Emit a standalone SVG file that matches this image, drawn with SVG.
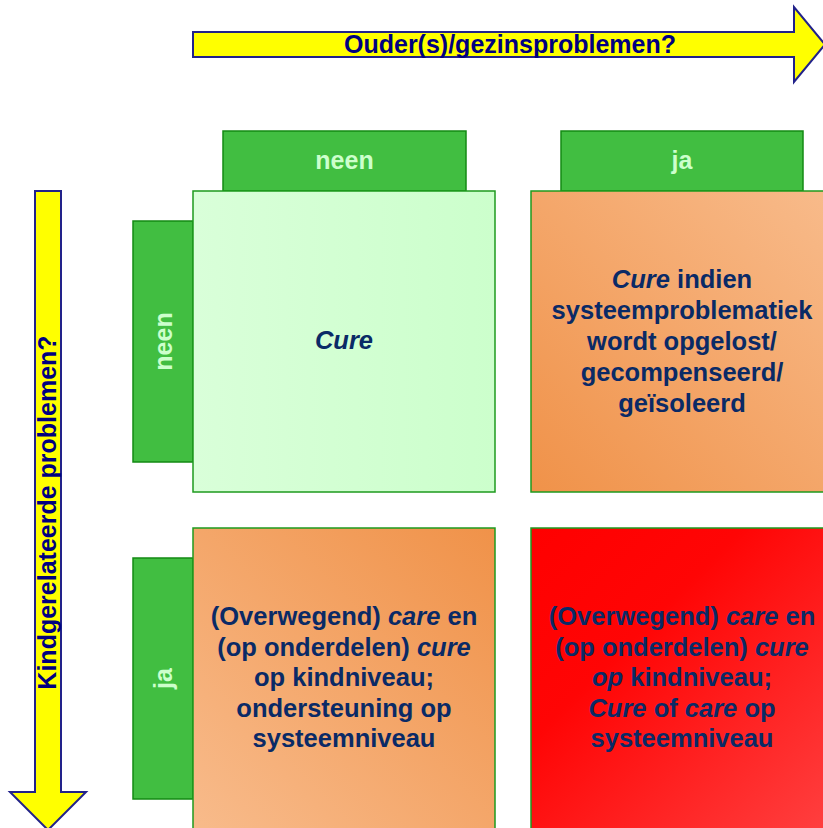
<svg xmlns="http://www.w3.org/2000/svg" width="823" height="828" viewBox="0 0 823 828">
<defs>
<linearGradient id="gTL" x1="0" y1="0" x2="1" y2="0"><stop offset="0" stop-color="#D9FFD9"/><stop offset="1" stop-color="#CCFFCC"/></linearGradient>
<linearGradient id="gTR" x1="0" y1="1" x2="1" y2="0"><stop offset="0" stop-color="#F09249"/><stop offset="1" stop-color="#F8BB8B"/></linearGradient>
<linearGradient id="gBL" x1="1" y1="0" x2="0" y2="1"><stop offset="0" stop-color="#F09249"/><stop offset="1" stop-color="#F8BB8B"/></linearGradient>
<linearGradient id="gBR" x1="0" y1="0" x2="1" y2="1"><stop offset="0" stop-color="#FF0000"/><stop offset="0.35" stop-color="#FF0505"/><stop offset="1" stop-color="#FF4040"/></linearGradient>
<style>
.arrow{fill:#FFFF00;stroke:#22228A;stroke-width:2;stroke-linejoin:miter}
.axis{font-family:"Liberation Sans",Arial,sans-serif;font-weight:bold;font-size:25px;fill:#000080;text-anchor:middle}
.tab{fill:#41BE41;stroke:#138A13;stroke-width:1.5}
.tabt{font-family:"Liberation Sans",Arial,sans-serif;font-weight:bold;font-size:25px;fill:#CCFFCC;text-anchor:middle}
.cell{stroke:#1E9A1E;stroke-width:1.5}
.ct{font-family:"Liberation Sans",Arial,sans-serif;font-weight:bold;font-size:25.5px;fill:#0A2A66;text-anchor:middle}
.i{font-style:italic}
</style>
</defs>
<g id="connectors">
<g id="axis-top">
<polygon class="arrow" points="193,32 794,32 794,7 825,44.5 794,82 794,57 193,57"/>
<text class="axis" x="510" y="53">Ouder(s)/gezinsproblemen?</text>
</g>
<g id="axis-left">
<polygon class="arrow" points="35,191 61,191 61,792 86,792 48,830 10,792 35,792"/>
<text class="axis" transform="translate(56,512.5) rotate(-90)">Kindgerelateerde problemen?</text>
</g>
</g>
<g id="tab-top-neen">
<rect class="tab" x="223" y="131" width="243" height="60"/>
<text class="tabt" x="344.5" y="169">neen</text>
</g>
<g id="tab-top-ja">
<rect class="tab" x="561" y="131" width="242" height="60"/>
<text class="tabt" x="682" y="169">ja</text>
</g>
<g id="tab-left-neen">
<rect class="tab" x="133" y="221" width="60" height="241"/>
<text class="tabt" transform="translate(172,341.5) rotate(-90)">neen</text>
</g>
<g id="tab-left-ja">
<rect class="tab" x="133" y="558" width="60" height="241"/>
<text class="tabt" transform="translate(172,678.5) rotate(-90)">ja</text>
</g>
<g id="cell-tl">
<rect class="cell" x="193" y="191" width="302" height="301" fill="url(#gTL)"/>
<text class="ct" x="344" y="349"><tspan class="i">Cure</tspan></text>
</g>
<g id="cell-tr">
<rect class="cell" x="531" y="191" width="302" height="301" fill="url(#gTR)"/>
<text class="ct" y="288"><tspan x="682"><tspan class="i">Cure</tspan> indien</tspan><tspan x="682" y="319">systeemproblematiek</tspan><tspan x="682" y="350">wordt opgelost/</tspan><tspan x="682" y="381">gecompenseerd/</tspan><tspan x="682" y="412">geïsoleerd</tspan></text>
</g>
<g id="cell-bl">
<rect class="cell" x="193" y="528" width="302" height="302" fill="url(#gBL)"/>
<text class="ct" y="625"><tspan x="344">(Overwegend) <tspan class="i">care</tspan> en</tspan><tspan x="344" y="655.5">(op onderdelen) <tspan class="i">cure</tspan></tspan><tspan x="344" y="686">op kindniveau;</tspan><tspan x="344" y="716.5">ondersteuning op</tspan><tspan x="344" y="747">systeemniveau</tspan></text>
</g>
<g id="cell-br">
<rect class="cell" x="531" y="528" width="302" height="302" fill="url(#gBR)"/>
<text class="ct" y="625"><tspan x="682">(Overwegend) <tspan class="i">care</tspan> en</tspan><tspan x="682" y="655.5">(op onderdelen) <tspan class="i">cure</tspan></tspan><tspan x="682" y="686"><tspan class="i">op</tspan> kindniveau;</tspan><tspan x="682" y="716.5"><tspan class="i">Cure</tspan> of <tspan class="i">care</tspan> op</tspan><tspan x="682" y="747">systeemniveau</tspan></text>
</g>
</svg>
